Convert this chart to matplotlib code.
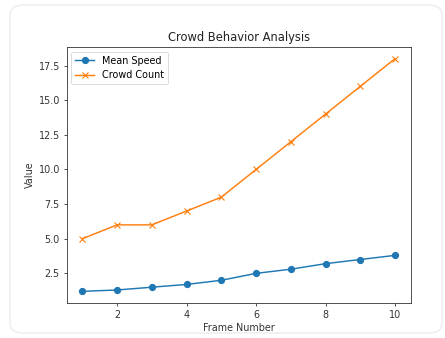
import matplotlib
matplotlib.use("Agg")
import matplotlib.pyplot as plt
from matplotlib.patches import FancyBboxPatch

frames = [1, 2, 3, 4, 5, 6, 7, 8, 9, 10]
mean_speed = [1.2, 1.3, 1.5, 1.7, 2.0, 2.5, 2.8, 3.2, 3.5, 3.8]
crowd_count = [5, 6, 6, 7, 8, 10, 12, 14, 16, 18]
y_ticks = [2.5, 5.0, 7.5, 10.0, 12.5, 15.0, 17.5]
x_ticks = [2, 4, 6, 8, 10]

W, H = 445, 338
fig = plt.figure(figsize=(W / 100, H / 100), dpi=100)
fig.patch.set_facecolor("white")

card = FancyBboxPatch((10 / W, 5 / H), 432 / W, 328 / H,
                      boxstyle="round,pad=0,rounding_size=0.03",
                      transform=fig.transFigure, facecolor="none",
                      edgecolor="#ececec", linewidth=1.0, zorder=-5)
fig.patches.append(card)

ax = fig.add_axes([66.7 / W, 1 - 303 / H, (410.7 - 66.7) / W, (303 - 47) / H])
ax.plot(frames, mean_speed, marker="o", color="#1f77b4", linewidth=1.05,
        markersize=4.2, label="Mean Speed")
ax.plot(frames, crowd_count, marker="x", color="#ff7f0e", linewidth=1.05,
        markersize=4.2, markeredgewidth=0.8, label="Crowd Count")
ax.set_xticks(x_ticks)
ax.set_yticks(y_ticks)
ax.tick_params(labelsize=6.9, length=2.5, width=0.6, pad=2.4, colors="#333333")
for s in ax.spines.values():
    s.set_linewidth(0.6)
    s.set_color("#333333")
ax.set_title("Crowd Behavior Analysis", fontsize=8.3, pad=4.2, color="#222222")
ax.set_xlabel("Frame Number", fontsize=6.9, labelpad=2.4, color="#333333")
ax.set_ylabel("Value", fontsize=6.9, labelpad=2.4, color="#333333")
leg = ax.legend(loc="upper left", fontsize=6.9, frameon=True, borderpad=0.4,
                handlelength=2.0, labelspacing=0.5)
leg.get_frame().set_linewidth(0.6)

fig.savefig("out.png", dpi=100, facecolor="white")
